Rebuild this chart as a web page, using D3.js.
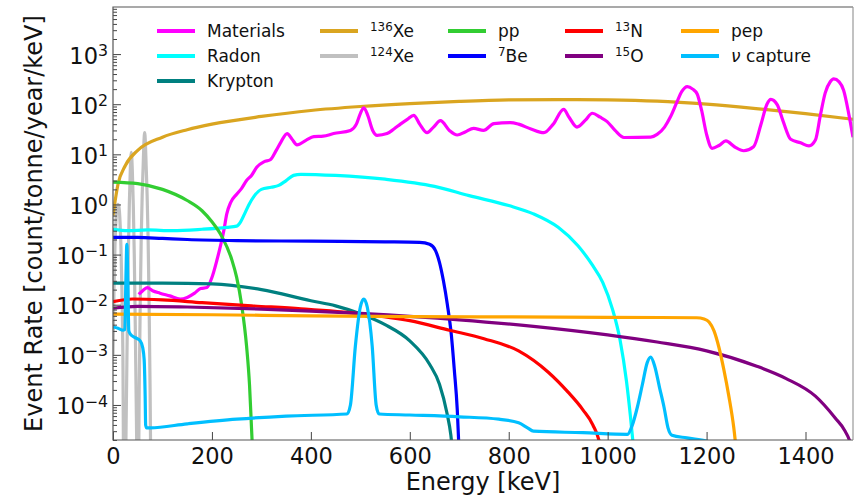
<!DOCTYPE html>
<html>
<head>
<meta charset="utf-8">
<script src="https://cdn.jsdelivr.net/npm/d3@7"></script>
<style>
  body { margin: 0; background: #fff; }
  svg { font-family: "DejaVu Sans", sans-serif; }
</style>
</head>
<body>
<script>
// spectra, [energy keV, rate count/tonne/year/keV]
const materials = [[52,0.016],[60,0.019],[69,0.022],[80,0.019],[95,0.017],[115,0.015],[136,0.013],[150,0.014],[165,0.017],[177,0.021],[190,0.022],[200,0.035],[210,0.077],[218,0.16],[224,0.3],[230,0.65],[238,1.1],[250,1.6],[260,2.1],[270,3.0],[280,3.8],[291,5.6],[305,7.1],[318,7.8],[330,12],[340,18],[352,26],[362,20],[372,15.5],[390,19],[406,22.5],[425,23],[446,26],[480,30],[492,40],[500,65],[507,85],[515,60],[525,30],[534,24],[554,26],[568,32],[581,40],[595,50],[608,60],[620,40],[635,27],[648,35],[662,47],[680,30],[696,24.3],[712,28],[729,33],[749,30],[770,41],[803,43],[820,40],[845,32],[871,27],[890,40],[911,79],[922,55],[938,35],[955,48],[969,66],[985,55],[999,45],[1015,30],[1033,21.7],[1087,22],[1100,25],[1115,35],[1127,56],[1140,110],[1150,180],[1161,225],[1172,200],[1181,160],[1190,75],[1200,25],[1211,13.2],[1225,15],[1239,18.5],[1257,14],[1275,11.8],[1295,14.2],[1310,40],[1322,100],[1330,125],[1343,97],[1355,45],[1370,20],[1390,17],[1407,14.7],[1420,19.3],[1430,60],[1440,170],[1450,280],[1457,320],[1468,280],[1477,190],[1488,60],[1496,22]];
const radon = [[0,0.32],[30,0.3],[70,0.31],[120,0.3],[180,0.32],[230,0.35],[250,0.37],[258,0.45],[266,0.65],[275,1.0],[285,1.45],[300,2.0],[320,2.2],[335,2.4],[350,3.0],[365,3.8],[380,4.0],[450,3.8],[550,3.2],[650,2.3],[720,1.5],[800,0.95],[850,0.65],[900,0.35],[940,0.15],[970,0.06],[990,0.028],[1010,0.008],[1025,0.002],[1038,3e-4],[1046,6e-5],[1052,1.5e-5]];
const krypton = [[0,0.027],[100,0.027],[200,0.026],[300,0.02],[400,0.012],[450,0.0095],[500,0.0066],[550,0.004],[600,0.0019],[640,6.5e-4],[660,2.6e-4],[675,7e-5],[683,2.5e-5],[688,8e-6]];
const xe136 = [[0,0.6],[10,2.5],[25,6],[50,12],[100,22],[150,31],[200,40],[300,57],[400,75],[500,90],[600,103],[700,114],[800,122],[900,124],[1000,122],[1100,115],[1200,100],[1300,82],[1400,65],[1496,50]];
const xe124 = [[0,0.001],[2,0.02],[4,0.15],[6,0.5],[8,0.9],[10,1],[12,0.9],[14,0.5],[16,0.15],[18,0.02],[20,0.001],[22,1e-6],[24,1e-6],[27,1e-4],[29,0.004],[31,0.1],[33,1],[35,5],[37,11],[39,5],[41,1],[43,0.1],[45,0.004],[47,1e-4],[50,1e-6],[51,1e-6],[53,2e-4],[55,0.01],[57,0.2],[59,1.5],[61,6],[62.5,17],[64,27],[65.5,17],[67,6],[69,1.5],[71,0.2],[73,0.01],[75,2e-4],[77,1e-6]];
const pp = [[0,2.8],[50,2.6],[100,2.0],[150,1.2],[180,0.75],[200,0.45],[220,0.23],[240,0.08],[250,0.035],[260,0.01],[270,0.0015],[276,2.5e-4],[280,3.5e-5],[284,5e-6]];
const be7 = [[0,0.22],[50,0.22],[100,0.21],[150,0.2],[250,0.19],[400,0.185],[550,0.18],[620,0.175],[640,0.16],[652,0.12],[660,0.07],[668,0.03],[676,0.01],[684,0.0025],[690,5e-4],[696,8e-5],[700,1e-5]];
const n13 = [[0,0.0115],[40,0.013],[100,0.0125],[180,0.011],[280,0.0095],[380,0.0083],[500,0.0066],[600,0.0048],[680,0.0031],[750,0.0021],[820,0.0012],[880,4.5e-4],[920,1.8e-4],[950,8e-5],[970,4e-5],[985,1.5e-5],[992,5e-6]];
const o15 = [[0,0.0085],[50,0.0093],[150,0.009],[300,0.0082],[500,0.0067],[700,0.005],[850,0.0037],[1000,0.0025],[1100,0.0018],[1200,0.0012],[1300,6e-4],[1360,3.4e-4],[1420,1.5e-4],[1460,5.5e-5],[1480,3e-5],[1492,1.5e-5],[1496,8e-6]];
const pep = [[0,0.0065],[200,0.0063],[400,0.006],[600,0.0058],[800,0.0057],[1000,0.0056],[1180,0.0055],[1195,0.0052],[1205,0.0045],[1215,0.003],[1225,0.0014],[1235,5e-4],[1245,1.5e-4],[1255,3.5e-5],[1262,8e-6]];
const nuCapture = [[0,0.0036],[10,0.0034],[20,0.0031],[24,0.0032],[26,0.03],[28,0.16],[30,0.03],[32,0.003],[35,0.0026],[45,0.0022],[55,0.0019],[60,0.0014],[63,8e-4],[65,1.5e-4],[66,4e-5],[68,3.5e-5],[75,3.5e-5],[150,4.2e-5],[250,5.2e-5],[350,6e-5],[473,6.6e-5],[480,1e-4],[490,0.0015],[500,0.009],[507,0.013],[514,0.009],[524,0.0015],[532,1e-4],[538,6.6e-5],[600,6.3e-5],[700,5.8e-5],[780,5.2e-5],[820,4.4e-5],[838,3.5e-5],[850,3e-5],[950,2.8e-5],[1040,2.6e-5],[1050,4e-5],[1060,9e-5],[1070,2.5e-4],[1080,7e-4],[1087,9e-4],[1095,6e-4],[1105,2.2e-4],[1114,9e-5],[1122,3.5e-5],[1130,2.5e-5],[1160,2.2e-5],[1200,1.9e-5],[1230,1.6e-5]];

const xTicks = [0, 200, 400, 600, 800, 1000, 1200, 1400];
const yTicks = [1e-4, 1e-3, 1e-2, 1e-1, 1, 10, 100, 1000];

// legend order (column first, 5 columns); draw order is separate below
const legendItems = [
  {data: materials, color: '#ff00ff', sup: '', text: 'Materials'},
  {data: radon, color: '#00ffff', sup: '', text: 'Radon'},
  {data: krypton, color: '#008080', sup: '', text: 'Krypton'},
  {data: xe136, color: '#daa520', sup: '136', text: 'Xe'},
  {data: xe124, color: '#c0c0c0', sup: '124', text: 'Xe'},
  {data: pp, color: '#32cd32', sup: '', text: 'pp'},
  {data: be7, color: '#0000ff', sup: '7', text: 'Be'},
  {data: n13, color: '#ff0000', sup: '13', text: 'N'},
  {data: o15, color: '#800080', sup: '15', text: 'O'},
  {data: pep, color: '#ffa500', sup: '', text: 'pep'},
  {data: nuCapture, color: '#00bfff', sup: '', text: 'capture', nu: true}
];
const drawOrder = [4, 3, 0, 1, 2, 5, 6, 7, 8, 9, 10];

const width = 858, height = 497;
const L = 113, R = 853, T = 7, B = 440;

const svg = d3.select('body').append('svg')
  .attr('width', width).attr('height', height);

const x = d3.scaleLinear().domain([0, 1496]).range([L, R]);
const y = d3.scaleLog().domain([2e-5, 8.7e3]).range([B, T]);

svg.append('clipPath').attr('id', 'plot')
  .append('rect').attr('x', L).attr('y', T).attr('width', R - L).attr('height', B - T);

const line = d3.line()
  .x(d => x(d[0]))
  .y(d => y(d[1]))
  .curve(d3.curveMonotoneX);

svg.append('g').attr('clip-path', 'url(#plot)')
  .selectAll('path')
  .data(drawOrder.map(i => legendItems[i]))
  .join('path')
  .attr('d', d => line(d.data))
  .attr('fill', 'none')
  .attr('stroke', d => d.color)
  .attr('stroke-width', 3.2)
  .attr('stroke-linejoin', 'round');

// axes, ticks pointing inward
const gx = svg.append('g').attr('transform', `translate(0,${B})`)
  .call(d3.axisBottom(x).tickValues(xTicks).tickFormat(d3.format('d'))
    .tickSizeInner(-8).tickSizeOuter(0).tickPadding(8));
gx.select('.domain').remove();
gx.selectAll('.tick line').attr('stroke', '#444');
gx.selectAll('.tick text').attr('font-size', 22.5).attr('fill', '#111').attr('font-family', 'DejaVu Sans');

const minor = y.ticks().filter(v => !yTicks.some(t => Math.abs(t - v) / t < 1e-6));
const gyMinor = svg.append('g').attr('transform', `translate(${L},0)`)
  .call(d3.axisLeft(y).tickValues(minor).tickSizeInner(-4).tickSizeOuter(0).tickFormat(''));
gyMinor.select('.domain').remove();
gyMinor.selectAll('.tick line').attr('stroke', '#444');

const gy = svg.append('g').attr('transform', `translate(${L},0)`)
  .call(d3.axisLeft(y).tickValues(yTicks).tickSizeInner(-8).tickSizeOuter(0).tickPadding(5));
gy.select('.domain').remove();
gy.selectAll('.tick line').attr('stroke', '#444');
gy.selectAll('.tick text')
  .attr('font-size', 22.5).attr('fill', '#111').attr('font-family', 'DejaVu Sans')
  .attr('dy', '0.4em')
  .each(function(d) {
    const e = Math.round(Math.log10(d));
    const t = d3.select(this).text(null);
    t.append('tspan').text('10');
    t.append('tspan').attr('font-size', '0.7em').attr('dy', '-0.5em')
      .text(e < 0 ? '\u2212' + (-e) : String(e));
  });

// frame
svg.append('path')
  .attr('d', `M${R},${T}H${L}V${B}H${R}`)
  .attr('fill', 'none').attr('stroke', '#555').attr('stroke-width', 1.2);
svg.append('line')
  .attr('x1', R).attr('x2', R).attr('y1', T).attr('y2', B)
  .attr('stroke', '#999').attr('stroke-width', 1.2);

// axis titles
svg.append('text')
  .attr('x', (L + R) / 2).attr('y', 490)
  .attr('text-anchor', 'middle').attr('font-size', 24).attr('fill', '#111')
  .text('Energy [keV]');
svg.append('text')
  .attr('transform', `translate(42,${(T + B) / 2}) rotate(-90)`)
  .attr('text-anchor', 'middle').attr('font-size', 24).attr('fill', '#111')
  .text('Event Rate [count/tonne/year/keV]');

// legend
const colX = [157, 320, 448, 565, 681];
const rowY = [31, 56, 81];
const slots = [[0,0],[0,1],[0,2],[1,0],[1,1],[2,0],[2,1],[3,0],[3,1],[4,0],[4,1]];
const legFont = 17, base = 6.1, supRaise = 6;
const leg = svg.append('g');
legendItems.forEach((d, i) => {
  const cx = colX[slots[i][0]], cy = rowY[slots[i][1]];
  leg.append('line')
    .attr('x1', cx).attr('x2', cx + 38).attr('y1', cy).attr('y2', cy)
    .attr('stroke', d.color).attr('stroke-width', 4);
  const t = leg.append('text')
    .attr('x', cx + 50).attr('y', cy + base)
    .attr('font-size', legFont).attr('fill', '#111');
  if (d.nu) {
    t.append('tspan').attr('font-style', 'italic').text('\u03bd');
    t.append('tspan').text(' ' + d.text);
  } else if (d.sup) {
    t.append('tspan').attr('font-size', legFont * 0.7).attr('dy', -supRaise).text(d.sup);
    t.append('tspan').attr('dy', supRaise).text(d.text);
  } else {
    t.text(d.text);
  }
});
</script>
</body>
</html>
